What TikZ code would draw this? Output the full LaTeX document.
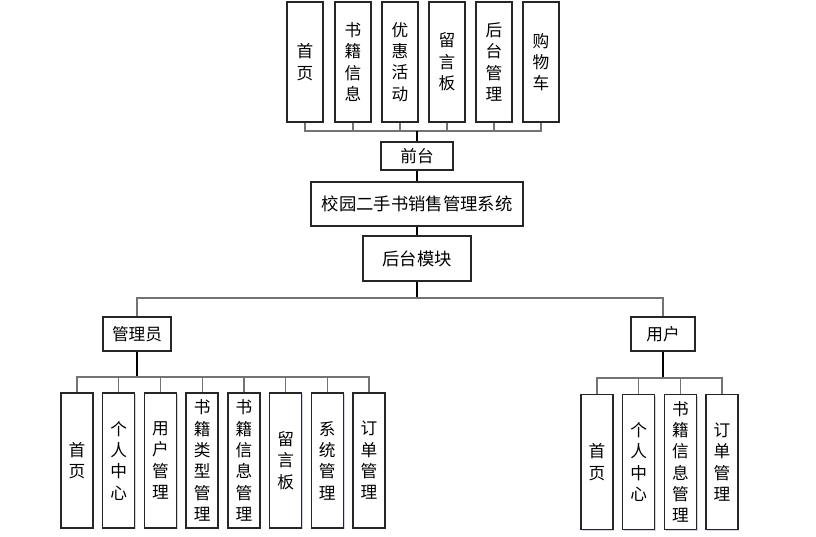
\documentclass[tikz,border=0pt]{standalone}
\usepackage{fontspec}
\setmainfont{Noto Sans CJK SC}
\usetikzlibrary{shadows}
\begin{document}
\begin{tikzpicture}[x=0.75pt,y=-0.75pt,
  box/.style={draw=black!85,line width=1pt,fill=white,inner sep=0pt,align=center,
     drop shadow={shadow xshift=1pt,shadow yshift=-1pt,fill=blue!30!gray,opacity=0.25},
     font=\fontsize{12.5}{16}\selectfont},
  topbox/.style={box,minimum width=27pt,minimum height=90pt},
  adbox/.style={box,minimum width=24pt,minimum height=101.25pt},
  hbox/.style={box,font=\fontsize{12.5}{15}\selectfont},
  bus/.style={draw=black!55,line width=0.9pt},
  stem/.style={draw=black,line width=1pt}]
\useasboundingbox (0,0) rectangle (816,536);
% top
\node[topbox] (t1) at (305,62) {首\\页};
\node[topbox] (t2) at (353,62) {书\\籍\\信\\息};
\node[topbox] (t3) at (400,62) {优\\惠\\活\\动};
\node[topbox] (t4) at (447,62) {留\\言\\板};
\node[topbox] (t5) at (494,62) {后\\台\\管\\理};
\node[topbox] (t6) at (541,62) {购\\物\\车};
\node[hbox,minimum width=54pt,minimum height=21pt] (qt) at (417,156) {前台};
\node[hbox,minimum width=159pt,minimum height=33pt,font=\fontsize{13}{15}\selectfont] (sys) at (417,204) {校园二手书销售管理系统};
\node[hbox,minimum width=81pt,minimum height=33.75pt,font=\fontsize{13}{15}\selectfont] (hm) at (417,258.5) {后台模块};
\node[hbox,minimum width=51pt,minimum height=25.5pt] (adm) at (137,334) {管理员};
\node[hbox,minimum width=48pt,minimum height=25.5pt] (usr) at (663,334) {用户};
% admin children
\node[adbox] (a1) at (77,460.5) {首\\页};
\node[adbox] (a2) at (118.7,460.5) {个\\人\\中\\心};
\node[adbox] (a3) at (160.4,460.5) {用\\户\\管\\理};
\node[adbox] (a4) at (202.1,460.5) {书\\籍\\类\\型\\管\\理};
\node[adbox] (a5) at (243.9,460.5) {书\\籍\\信\\息\\管\\理};
\node[adbox] (a6) at (285.6,460.5) {留\\言\\板};
\node[adbox] (a7) at (327.3,460.5) {系\\统\\管\\理};
\node[adbox] (a8) at (369,460.5) {订\\单\\管\\理};
% user children
\node[adbox] (u1) at (597,462) {首\\页};
\node[adbox] (u2) at (638.7,462) {个\\人\\中\\心};
\node[adbox] (u3) at (680.4,462) {书\\籍\\信\\息\\管\\理};
\node[adbox] (u4) at (722,462) {订\\单\\管\\理};
% connectors
\coordinate (b1) at (417,131);
\foreach \i in {1,...,6} \draw[bus] (t\i.south) |- (b1);
\draw[stem] (b1) -- (qt.north);
\draw[stem] (qt.south) -- (sys.north);
\draw[stem] (sys.south) -- (hm.north);
\coordinate (b2) at (417,298);
\draw[stem] (hm.south) -- (b2);
\draw[bus] (b2) -| (adm.north);
\draw[bus] (b2) -| (usr.north);
\coordinate (b3) at (137,377);
\draw[stem] (adm.south) -- (b3);
\foreach \i in {1,...,8} \draw[bus] (a\i.north) |- (b3);
\coordinate (b4) at (663,378);
\draw[stem] (usr.south) -- (b4);
\foreach \i in {1,...,4} \draw[bus] (u\i.north) |- (b4);
\end{tikzpicture}
\end{document}
